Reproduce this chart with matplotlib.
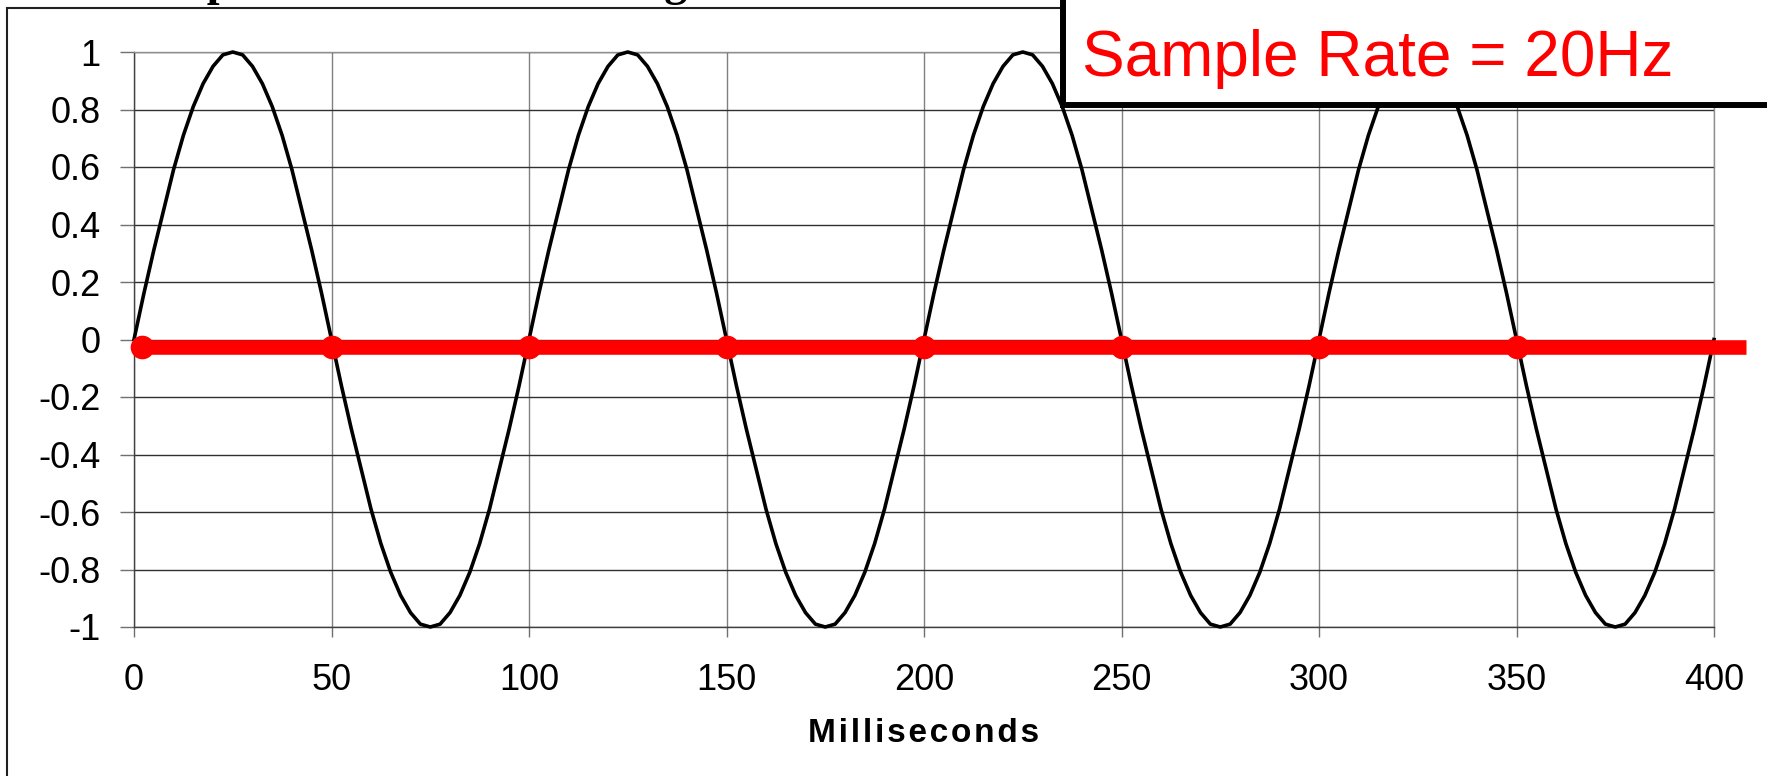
import numpy as np
import matplotlib.pyplot as plt
from matplotlib.patches import Rectangle

# 10 Hz sine read every 2.5 ms (0..400 ms)
sine_t = np.arange(0, 400.1, 2.5)
sine_v = [
    0.0, 0.16, 0.31, 0.45, 0.59, 0.71, 0.81, 0.89, 0.95, 0.99,
    1.0, 0.99, 0.95, 0.89, 0.81, 0.71, 0.59, 0.45, 0.31, 0.16,
    0.0, -0.16, -0.31, -0.45, -0.59, -0.71, -0.81, -0.89, -0.95, -0.99,
    -1.0, -0.99, -0.95, -0.89, -0.81, -0.71, -0.59, -0.45, -0.31, -0.16,
    0.0, 0.16, 0.31, 0.45, 0.59, 0.71, 0.81, 0.89, 0.95, 0.99,
    1.0, 0.99, 0.95, 0.89, 0.81, 0.71, 0.59, 0.45, 0.31, 0.16,
    0.0, -0.16, -0.31, -0.45, -0.59, -0.71, -0.81, -0.89, -0.95, -0.99,
    -1.0, -0.99, -0.95, -0.89, -0.81, -0.71, -0.59, -0.45, -0.31, -0.16,
    0.0, 0.16, 0.31, 0.45, 0.59, 0.71, 0.81, 0.89, 0.95, 0.99,
    1.0, 0.99, 0.95, 0.89, 0.81, 0.71, 0.59, 0.45, 0.31, 0.16,
    0.0, -0.16, -0.31, -0.45, -0.59, -0.71, -0.81, -0.89, -0.95, -0.99,
    -1.0, -0.99, -0.95, -0.89, -0.81, -0.71, -0.59, -0.45, -0.31, -0.16,
    0.0, 0.16, 0.31, 0.45, 0.59, 0.71, 0.81, 0.89, 0.95, 0.99,
    1.0, 0.99, 0.95, 0.89, 0.81, 0.71, 0.59, 0.45, 0.31, 0.16,
    0.0, -0.16, -0.31, -0.45, -0.59, -0.71, -0.81, -0.89, -0.95, -0.99,
    -1.0, -0.99, -0.95, -0.89, -0.81, -0.71, -0.59, -0.45, -0.31, -0.16,
    0.0,
]

# samples taken at 20 Hz (all land on zero crossings)
sample_t = [2, 50, 100, 150, 200, 250, 300, 350, 408]
sample_v = [-0.025, -0.025, -0.025, -0.025, -0.025, -0.025, -0.025, -0.025, -0.025]

x_ticks = [0, 50, 100, 150, 200, 250, 300, 350, 400]
y_ticks = [-1, -0.8, -0.6, -0.4, -0.2, 0, 0.2, 0.4, 0.6, 0.8, 1]
y_labels = ["-1", "-0.8", "-0.6", "-0.4", "-0.2", "0", "0.2", "0.4", "0.6", "0.8", "1"]

plt.rcParams["font.family"] = ["Liberation Sans", "DejaVu Sans"]
plt.rcParams["axes.unicode_minus"] = False

W, H = 1767, 776
fig = plt.figure(figsize=(W / 100, H / 100), dpi=100)
ax = fig.add_axes([134 / W, 1 - 627 / H, (1714 - 134) / W, (627 - 52) / H])

ax.plot(sine_t, sine_v, color="black", lw=2.6, clip_on=False, zorder=3)
ax.plot(sample_t, sample_v, color="#ff0000", lw=10.5, marker="o", markersize=16,
        markevery=list(range(8)), solid_capstyle="butt", clip_on=False, zorder=4)

ax.set_xlim(0, 400)
ax.set_ylim(-1, 1)
ax.set_xticks(x_ticks)
ax.set_yticks(y_ticks)
ax.set_yticklabels(y_labels)
ax.xaxis.grid(True, color="#808080", lw=1)
ax.yaxis.grid(True, color="#303030", lw=1)
ax.set_axisbelow(True)
for side in ["top", "right"]:
    ax.spines[side].set_color("#909090")
    ax.spines[side].set_linewidth(1)
for side in ["left", "bottom"]:
    ax.spines[side].set_color("#404040")
    ax.spines[side].set_linewidth(1)

ax.tick_params(axis="x", length=7.2, width=1, color="#707070", pad=19, labelsize=26)
ax.tick_params(axis="y", length=10, width=1, color="#707070", pad=14, labelsize=26)
ax.set_xlabel("\u200a".join("Milliseconds"), fontsize=24, fontweight="bold", labelpad=14)

# outer frame of the slide
fig.add_artist(Rectangle((7 / W, -0.2), 2.0, 1.2 - 8 / H, transform=fig.transFigure,
                         fill=False, ec="#202020", lw=1.5, zorder=1))

# cut-off title above the frame
fig.text(120 / W, 1 + 5 / H, "Sampled Sine Wave Showing", fontsize=33, fontweight="bold",
         family=["Liberation Serif", "DejaVu Serif"], va="baseline", ha="left")

# annotation box
fig.add_artist(Rectangle((1063 / W, 1 - 105 / H), 2.0, 1.0, transform=fig.transFigure,
                         fc="white", ec="black", lw=4.3, zorder=10))
fig.text(1082 / W, 1 - 76 / H, "Sample Rate = 20Hz", fontsize=46, color="#ff0000",
         va="baseline", ha="left", zorder=11)

plt.savefig("out.png", dpi=100)
